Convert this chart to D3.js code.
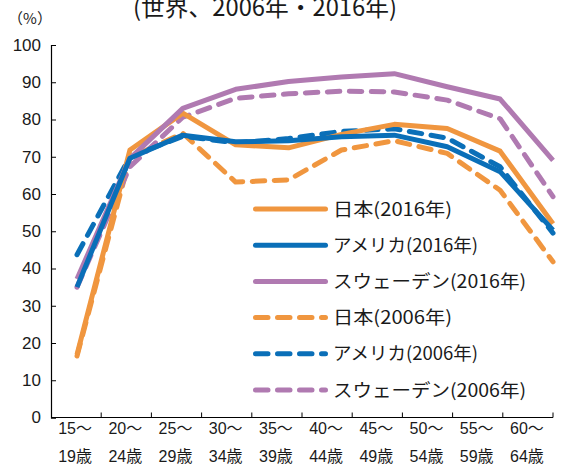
<!DOCTYPE html>
<html><head><meta charset="utf-8">
<script src="https://cdn.jsdelivr.net/npm/d3@7"></script>
<style>
html,body{margin:0;padding:0;background:#fff;}
svg text{font-family:"Liberation Sans","Noto Sans CJK JP",sans-serif;fill:#1a1a1a;}
</style></head>
<body><svg id="c" width="587" height="469"></svg>
<script>
const categoriesTop = ["15～","20～","25～","30～","35～","40～","45～","50～","55～","60～"];
const categoriesBottom = ["19歳","24歳","29歳","34歳","39歳","44歳","49歳","54歳","59歳","64歳"];
const yTicks = [0,10,20,30,40,50,60,70,80,90,100];
const japan2016  = [16.9, 71.8, 81.7, 73.2, 72.4, 76.0, 78.7, 77.6, 71.5, 52.0];
const usa2016    = [35.0, 69.6, 75.8, 74.0, 74.3, 75.4, 75.8, 72.7, 66.0, 50.3];
const sweden2016 = [37.2, 69.5, 83.0, 88.1, 90.2, 91.4, 92.3, 88.8, 85.5, 69.0];
const japan2006  = [16.5, 69.7, 76.3, 63.2, 63.8, 71.8, 74.3, 70.9, 61.0, 41.8];
const usa2006    = [43.7, 70.0, 75.5, 73.7, 74.9, 76.8, 77.5, 75.0, 67.3, 49.5];
const sweden2006 = [35.0, 67.3, 80.6, 85.7, 86.9, 87.6, 87.4, 85.2, 80.2, 59.3];
const seriesNames = ["日本(2016年)","アメリカ(2016年)","スウェーデン(2016年)","日本(2006年)","アメリカ(2006年)","スウェーデン(2006年)"];

const colors = {jp:"#f0963f", us:"#0a6fb8", sw:"#b07ab1"};
const DASH = "12.5,9.5";
const series = [
  {name:seriesNames[0], values:japan2016, color:colors.jp, dash:null},
  {name:seriesNames[1], values:usa2016, color:colors.us, dash:null},
  {name:seriesNames[2], values:sweden2016, color:colors.sw, dash:null},
  {name:seriesNames[3], values:japan2006, color:colors.jp, dash:DASH},
  {name:seriesNames[4], values:usa2006, color:colors.us, dash:DASH},
  {name:seriesNames[5], values:sweden2006, color:colors.sw, dash:DASH}
];

const svg = d3.select("#c");
const y = d3.scaleLinear().domain([0,100]).range([417.5,45]);
const xBand = d3.scaleBand().domain(d3.range(10)).range([51,553]).padding(0);
const xPt = d3.scalePoint().domain(d3.range(10)).range([77,553]);

// title (partially cut at top, as in the reference)
svg.append("text").attr("x",133).attr("y",16)
  .attr("textLength",264).attr("lengthAdjust","spacingAndGlyphs")
  .style("font-size","24px").style("font-family","'Noto Sans CJK JP',sans-serif")
  .text("(世界、2006年・2016年)");
svg.append("text").attr("x",30).attr("y",24).attr("text-anchor","middle")
  .style("font-size","15px").style("font-family","'Noto Sans CJK JP',sans-serif")
  .text("（%）");

// y axis
const yAxis = d3.axisLeft(y).tickValues(yTicks).tickSize(-5).tickPadding(10).tickFormat(d3.format("d"));
const gy = svg.append("g").attr("transform","translate(51,0)").call(yAxis);
gy.selectAll("path.domain").attr("stroke","#000").attr("stroke-width",1.2);
gy.selectAll(".tick line").attr("stroke","#000");
gy.selectAll(".tick text").style("font-size","17px").attr("fill","#1a1a1a")
  .style("font-family","'Liberation Sans',sans-serif");

// x axis
const gx = svg.append("g").attr("transform","translate(0,417.5)");
gx.append("line").attr("x1",51).attr("x2",553).attr("y1",0).attr("y2",0).attr("stroke","#000").attr("stroke-width",1.2);
gx.selectAll("line.tk").data(d3.range(1,11)).enter().append("line").attr("class","tk")
  .attr("x1",d => xBand.bandwidth()*d + 51).attr("x2",d => xBand.bandwidth()*d + 51)
  .attr("y1",0).attr("y2",-5).attr("stroke","#000");
const lab = gx.selectAll("text.lab").data(d3.range(10)).enter().append("text").attr("class","lab")
  .attr("text-anchor","middle").style("font-size","16px")
  .style("font-family","'Liberation Sans','Noto Sans CJK JP',sans-serif");
lab.append("tspan").attr("x",d => xBand(d)+xBand.bandwidth()/2 - 1).attr("y",16).text(d => categoriesTop[d]);
lab.append("tspan").attr("x",d => xBand(d)+xBand.bandwidth()/2 - 1).attr("y",44).text(d => categoriesBottom[d]);

// lines
const line = d3.line().x((d,i) => xPt(i)).y(d => y(d));
const drawOrder = [3,5,4,0,2,1];
drawOrder.forEach(k => {
  const s = series[k];
  svg.append("path").datum(s.values).attr("d",line).attr("fill","none")
    .attr("stroke",s.color).attr("stroke-width",5)
    .attr("stroke-dasharray",s.dash).attr("stroke-linecap",s.dash ? "round" : "butt")
    .attr("stroke-linejoin","round");
});

// legend
const lg = svg.append("g");
const legendWidths = [119,145,193,119,145,193];
series.forEach((s,i) => {
  const yy = 209 + i*36.2;
  lg.append("line").attr("x1",255.5).attr("x2",325.5).attr("y1",yy).attr("y2",yy)
    .attr("stroke",s.color).attr("stroke-width",5).attr("stroke-dasharray",s.dash)
    .attr("stroke-linecap","round");
  lg.append("text").attr("x",333).attr("y",yy+6.5).style("font-size","18px")
    .attr("textLength",legendWidths[i]).attr("lengthAdjust","spacingAndGlyphs")
    .style("font-family","'Noto Sans CJK JP',sans-serif").text(s.name);
});
</script></body></html>
